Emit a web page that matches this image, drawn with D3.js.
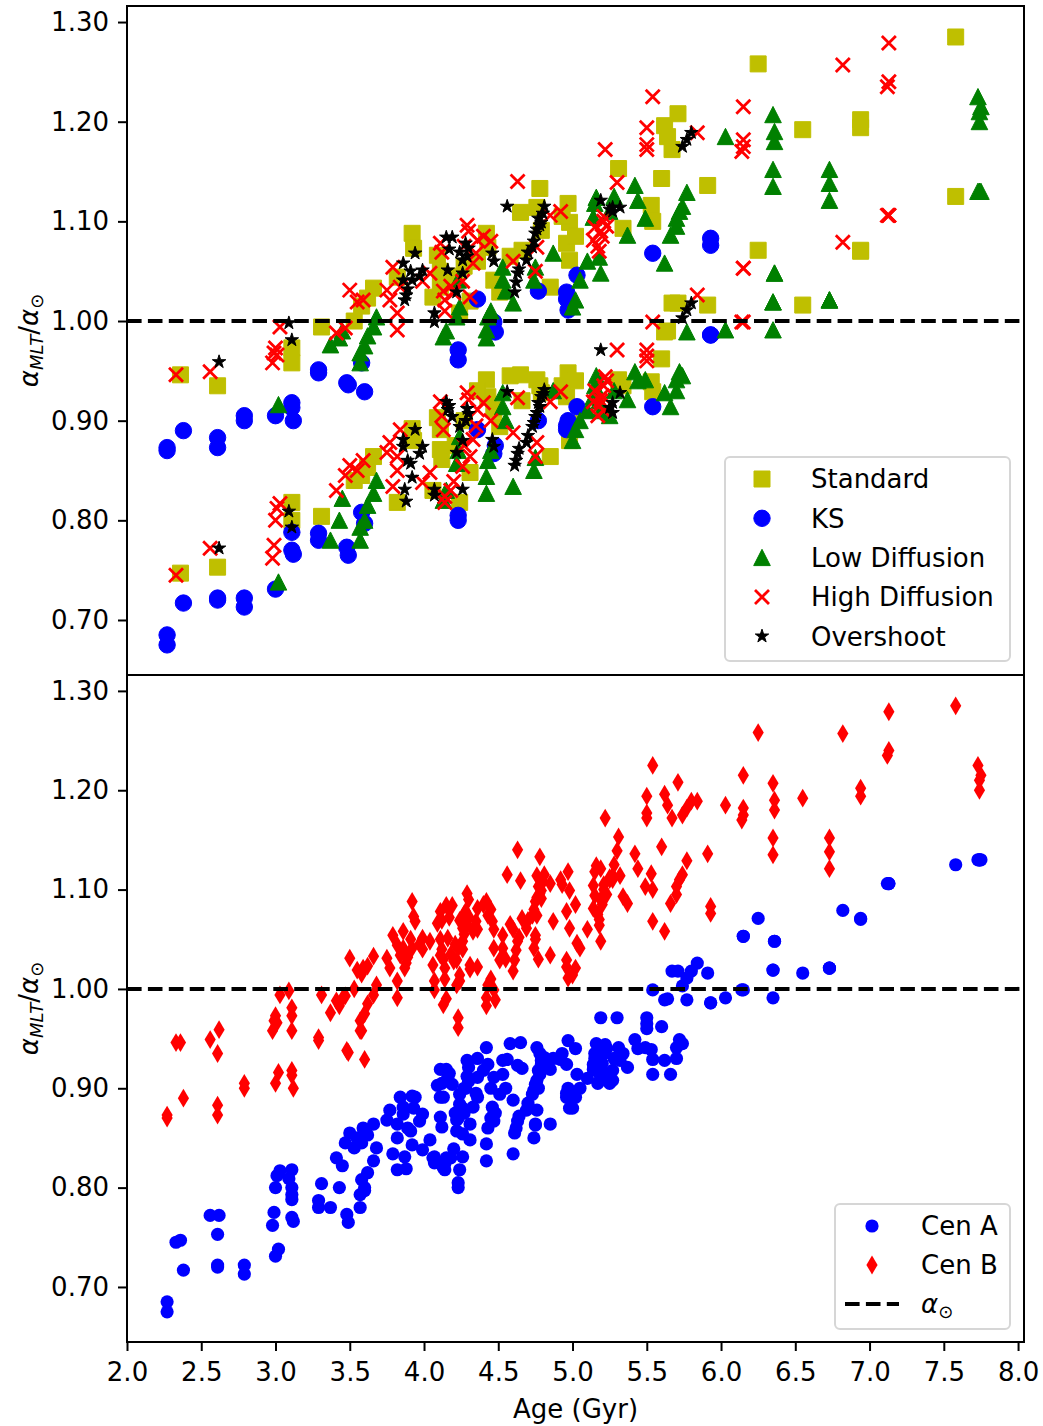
<!DOCTYPE html>
<html>
<head>
<meta charset="utf-8">
<script src="https://cdn.jsdelivr.net/npm/d3@7"></script>
<style>
  body { margin: 0; background: #fff; }
  svg { display: block; }
  text { font-family: "DejaVu Sans", sans-serif; fill: #000; }
</style>
</head>
<body>
<div id="chart"></div>
<script>
/**
 * DATA (age in Gyr, alpha for Cen A and Cen B, per model)
 * */
const stdAge = [2.36, 2.61, 3.11, 3.11, 3.31, 3.53, 3.62, 3.66, 3.82, 3.92, 3.93, 4.06, 4.09, 4.11, 4.11, 4.12, 4.24, 4.31, 4.42, 4.43, 4.47, 4.51, 4.65, 4.66, 4.76, 4.78, 4.79, 4.85, 4.96, 4.97, 4.98, 4.98, 5.31, 5.34, 5.53, 5.54, 5.60, 5.62, 5.64, 5.67, 5.71, 5.91, 6.25, 6.55, 6.94, 6.94, 7.58, 4.21, 4.27, 4.36, 4.93, 5.02, 4.58, 3.58];
const stdA = [0.747, 0.753, 0.818, 0.800, 0.804, 0.840, 0.853, 0.864, 0.818, 0.892, 0.880, 0.830, 0.903, 0.891, 0.871, 0.861, 0.818, 0.848, 0.941, 0.924, 0.911, 0.894, 0.946, 0.920, 0.941, 0.935, 0.928, 0.864, 0.924, 0.948, 0.897, 0.880, 0.941, 0.935, 0.939, 0.929, 0.962, 0.989, 0.990, 1.018, 1.018, 1.016, 1.071, 1.016, 1.071, 1.070, 1.125, 0.875, 0.900, 0.930, 0.935, 0.940, 0.945, 0.845];
const stdB = [0.946, 0.935, 0.973, 0.958, 0.994, 1.000, 1.023, 1.033, 1.044, 1.088, 1.073, 1.024, 1.066, 1.034, 1.050, 1.040, 1.008, 1.020, 1.088, 1.074, 1.041, 1.029, 1.109, 1.071, 1.114, 1.133, 1.091, 1.034, 1.078, 1.118, 1.061, 1.099, 1.153, 1.093, 1.116, 1.100, 1.143, 1.196, 1.185, 1.172, 1.208, 1.136, 1.258, 1.192, 1.202, 1.194, 1.285, 1.045, 1.055, 1.060, 1.105, 1.085, 1.065, 1.015];

const ksAge = [2.27, 2.27, 2.38, 2.61, 2.61, 2.79, 2.79, 3.00, 3.11, 3.11, 3.12, 3.29, 3.29, 3.48, 3.49, 3.58, 3.60, 4.23, 4.23, 4.36, 4.47, 4.48, 4.77, 4.96, 4.96, 4.97, 5.03, 5.54, 5.93, 5.93];
const ksA = [0.685, 0.675, 0.717, 0.722, 0.720, 0.722, 0.713, 0.731, 0.788, 0.770, 0.766, 0.787, 0.780, 0.773, 0.765, 0.808, 0.797, 0.805, 0.800, 0.891, 0.867, 0.875, 0.900, 0.891, 0.895, 0.900, 0.914, 0.914, 0.986, 0.986];
const ksB = [0.873, 0.870, 0.890, 0.883, 0.873, 0.905, 0.900, 0.905, 0.918, 0.913, 0.900, 0.951, 0.948, 0.938, 0.936, 0.958, 0.929, 0.971, 0.961, 1.022, 0.999, 0.989, 1.030, 1.029, 1.022, 1.011, 1.046, 1.068, 1.083, 1.076];

const ldAge = [3.02, 3.37, 3.43, 3.45, 3.57, 3.57, 3.60, 3.66, 3.68, 4.13, 4.15, 4.22, 4.24, 4.23, 4.42, 4.42, 4.43, 4.53, 4.53, 4.60, 4.74, 4.75, 4.87, 5.00, 5.02, 5.05, 5.14, 5.15, 5.16, 5.18, 5.19, 5.37, 5.42, 5.44, 5.49, 5.62, 5.66, 5.70, 5.72, 5.77, 6.03, 6.35, 6.35, 6.36, 6.36, 6.35, 6.73, 6.73, 6.73, 7.74, 7.74, 7.75, 7.73, 5.25, 5.28, 5.70, 5.74, 4.45, 4.55, 5.10, 3.62];
const ldA = [0.738, 0.780, 0.800, 0.822, 0.780, 0.793, 0.800, 0.827, 0.840, 0.820, 0.830, 0.857, 0.884, 0.870, 0.827, 0.844, 0.860, 0.914, 0.928, 0.834, 0.850, 0.863, 0.930, 0.880, 0.891, 0.900, 0.924, 0.935, 0.945, 0.920, 0.910, 0.921, 0.949, 0.940, 0.941, 0.928, 0.914, 0.941, 0.949, 0.989, 0.991, 0.991, 1.019, 1.048, 1.048, 1.019, 1.021, 1.021, 1.021, 1.130, 1.130, 1.130, 1.130, 0.905, 0.930, 0.930, 0.945, 0.870, 0.900, 0.910, 0.815];
const ldB = [0.916, 0.976, 0.983, 0.990, 0.958, 0.968, 0.975, 0.994, 1.004, 0.984, 0.990, 1.004, 1.014, 1.041, 0.983, 0.991, 1.004, 1.041, 1.054, 1.018, 1.041, 1.054, 1.068, 1.014, 1.021, 1.041, 1.104, 1.118, 1.124, 1.064, 1.048, 1.086, 1.136, 1.121, 1.103, 1.058, 1.086, 1.103, 1.110, 1.129, 1.185, 1.135, 1.152, 1.180, 1.190, 1.207, 1.121, 1.138, 1.152, 1.200, 1.210, 1.215, 1.225, 1.110, 1.125, 1.095, 1.115, 1.010, 1.030, 1.060, 0.985];

const hdAge = [2.33, 2.56, 2.98, 2.99, 3.00, 3.01, 3.03, 3.41, 3.47, 3.50, 3.55, 3.59, 3.75, 3.77, 3.79, 3.82, 3.82, 3.84, 3.99, 4.04, 4.11, 4.12, 4.13, 4.14, 4.14, 4.20, 4.26, 4.29, 4.30, 4.31, 4.33, 4.36, 4.40, 4.60, 4.63, 4.75, 4.76, 4.85, 4.92, 5.14, 5.15, 5.18, 5.20, 5.21, 5.22, 5.30, 5.50, 5.50, 5.50, 5.54, 5.84, 6.14, 6.15, 6.15, 6.15, 6.82, 7.12, 7.13, 7.13, 5.17, 5.19, 5.21, 5.23, 4.27, 4.35, 4.45, 4.18];
const hdA = [0.745, 0.772, 0.762, 0.775, 0.800, 0.812, 0.817, 0.830, 0.845, 0.855, 0.850, 0.860, 0.868, 0.878, 0.834, 0.864, 0.850, 0.891, 0.838, 0.848, 0.919, 0.905, 0.891, 0.824, 0.818, 0.839, 0.854, 0.928, 0.921, 0.864, 0.881, 0.911, 0.918, 0.888, 0.923, 0.864, 0.878, 0.919, 0.929, 0.919, 0.930, 0.915, 0.925, 0.935, 0.944, 0.971, 0.971, 0.960, 0.965, 0.999, 1.026, 0.999, 0.999, 1.053, 1.053, 1.079, 1.106, 1.106, 1.106, 0.905, 0.920, 0.910, 0.940, 0.875, 0.895, 0.900, 0.830];
const hdB = [0.946, 0.949, 0.958, 0.968, 0.973, 0.966, 0.994, 0.988, 0.993, 1.031, 1.019, 1.021, 1.031, 1.021, 1.054, 1.008, 0.991, 1.034, 1.040, 1.048, 1.078, 1.069, 1.030, 1.021, 1.010, 1.028, 1.040, 1.096, 1.090, 1.024, 1.058, 1.081, 1.085, 1.060, 1.140, 1.050, 1.074, 1.106, 1.110, 1.081, 1.094, 1.070, 1.085, 1.100, 1.172, 1.139, 1.172, 1.177, 1.194, 1.225, 1.189, 1.170, 1.175, 1.182, 1.215, 1.257, 1.235, 1.240, 1.279, 1.075, 1.090, 1.105, 1.095, 1.075, 1.068, 1.080, 1.035];

const osAge = [2.62, 3.09, 3.11, 3.86, 3.86, 3.87, 3.88, 3.91, 3.92, 3.94, 3.97, 3.99, 4.07, 4.07, 4.15, 4.16, 4.19, 4.22, 4.24, 4.26, 4.26, 4.30, 4.46, 4.47, 4.56, 4.61, 4.62, 4.63, 4.69, 4.70, 4.73, 4.75, 4.78, 4.79, 4.81, 5.19, 5.27, 5.27, 5.32, 5.74, 5.77, 5.80, 4.28, 4.29, 4.74, 4.76, 4.77, 4.80, 4.64, 3.89, 4.17, 5.25];
const osA = [0.772, 0.809, 0.793, 0.881, 0.874, 0.831, 0.819, 0.857, 0.843, 0.891, 0.867, 0.874, 0.831, 0.825, 0.919, 0.911, 0.904, 0.868, 0.894, 0.831, 0.880, 0.907, 0.881, 0.874, 0.929, 0.855, 0.860, 0.867, 0.878, 0.885, 0.894, 0.904, 0.914, 0.924, 0.931, 0.971, 0.918, 0.908, 0.928, 1.003, 1.011, 1.018, 0.900, 0.912, 0.898, 0.908, 0.918, 0.927, 0.872, 0.860, 0.915, 0.913];
const osB = [0.959, 0.998, 0.981, 1.058, 1.041, 1.021, 1.026, 1.050, 1.041, 1.068, 1.045, 1.051, 1.008, 0.999, 1.084, 1.051, 1.084, 1.029, 1.069, 1.048, 1.061, 1.073, 1.068, 1.060, 1.115, 1.029, 1.039, 1.048, 1.061, 1.069, 1.074, 1.088, 1.096, 1.099, 1.115, 1.121, 1.114, 1.110, 1.114, 1.175, 1.182, 1.189, 1.078, 1.065, 1.080, 1.092, 1.103, 1.108, 1.052, 1.032, 1.072, 1.112];

const modelNames = ["Standard", "KS", "Low Diffusion", "High Diffusion", "Overshoot"];
const xTicks = [2.0, 2.5, 3.0, 3.5, 4.0, 4.5, 5.0, 5.5, 6.0, 6.5, 7.0, 7.5, 8.0];
const yTicks = [0.70, 0.80, 0.90, 1.00, 1.10, 1.20, 1.30];
const alphaSun = 1.0;

/**
 * CONSTANTS AND GLOBALS
 * */
const width = 1043, height = 1426;
const left = 127, right = 1024;
const fontSize = 26;

const models = [
  { name: modelNames[0], age: stdAge, a: stdA, b: stdB, color: "#bfbf00", shape: "square" },
  { name: modelNames[1], age: ksAge, a: ksA, b: ksB, color: "#0000ff", shape: "circle" },
  { name: modelNames[2], age: ldAge, a: ldA, b: ldB, color: "#008000", shape: "triangle" },
  { name: modelNames[3], age: hdAge, a: hdA, b: hdB, color: "#ff0000", shape: "x" },
  { name: modelNames[4], age: osAge, a: osA, b: osB, color: "#000000", shape: "star" },
];

function markerPath(shape, big = true) {
  switch (shape) {
    case "square": return "M-8,-8H8V8H-8Z";
    case "circle": return d3.symbol(d3.symbolCircle, big ? 211 : 137)();
    case "triangle": return "M0,-8.3L8.3,8L-8.3,8Z";
    case "x": return "M-7,-7L7,7M-7,7L7,-7";
    case "star": return d3.symbol(d3.symbolStar, 56)();
    case "diamond": return "M0,-9.4L5.6,0L0,9.4L-5.6,0Z";
  }
}

function styleMarker(sel, shape, color) {
  if (shape === "x") {
    sel.attr("fill", "none").attr("stroke", color).attr("stroke-width", 2.8);
  } else {
    sel.attr("fill", color).attr("stroke", color).attr("stroke-width", 1);
  }
}

const svg = d3.select("#chart").append("svg")
  .attr("width", width)
  .attr("height", height);

const x = d3.scaleLinear().domain([2.0, 8.04]).range([left, right]);
const yTop = d3.scaleLinear().domain([0.6448, 1.3161]).range([675, 6]);
const yBot = d3.scaleLinear().domain([0.6446, 1.3160]).range([1342, 675]);

function yAxis(y) {
  const g = svg.append("g").attr("transform", `translate(${left},0)`);
  g.call(d3.axisLeft(y).tickValues(d3.range(65, 132).map(d => d / 100))
    .tickSize(5).tickSizeOuter(0).tickFormat(""));
  g.call(d3.axisLeft(y).tickValues(yTicks).tickSize(9).tickPadding(9)
    .tickSizeOuter(0).tickFormat(d3.format(".2f")));
  g.selectAll(".domain").remove();
  g.selectAll("line").attr("stroke-width", 2);
  g.selectAll("text").attr("font-size", fontSize).attr("font-family", "DejaVu Sans");
}

// panels
const panels = [
  { y: yTop, top: 6, bottom: 675 },
  { y: yBot, top: 675, bottom: 1342 },
];

// top panel markers, one layer per model
const gTop = svg.append("g");
models.forEach(m => {
  const pts = m.age.map((age, i) => [age, m.a[i]]).concat(m.age.map((age, i) => [age, m.b[i]]));
  gTop.append("g").selectAll("path")
    .data(pts)
    .join("path")
    .attr("transform", d => `translate(${x(d[0])},${yTop(d[1])})`)
    .attr("d", markerPath(m.shape))
    .call(styleMarker, m.shape, m.color);
});

// bottom panel markers: Cen A then Cen B
const gBot = svg.append("g");
const allA = models.flatMap(m => m.age.map((age, i) => [age, m.a[i]]));
const allB = models.flatMap(m => m.age.map((age, i) => [age, m.b[i]]));
gBot.append("g").selectAll("circle")
  .data(allA)
  .join("circle")
  .attr("cx", d => x(d[0]))
  .attr("cy", d => yBot(d[1]))
  .attr("r", 6.6)
  .attr("fill", "#0000ff");
gBot.append("g").selectAll("path")
  .data(allB)
  .join("path")
  .attr("transform", d => `translate(${x(d[0])},${yBot(d[1])})`)
  .attr("d", markerPath("diamond"))
  .attr("fill", "#ff0000");

// dashed solar line, frames, axes
panels.forEach(p => {
  svg.append("line")
    .attr("x1", left).attr("x2", right)
    .attr("y1", p.y(alphaSun)).attr("y2", p.y(alphaSun))
    .attr("stroke", "#000").attr("stroke-width", 4)
    .attr("stroke-dasharray", "14.6,6.3");
  yAxis(p.y);
  svg.append("rect")
    .attr("x", left).attr("y", p.top)
    .attr("width", right - left).attr("height", p.bottom - p.top)
    .attr("fill", "none").attr("stroke", "#000").attr("stroke-width", 2);
});

// x axis
const gx = svg.append("g").attr("transform", "translate(0,1342)");
gx.call(d3.axisBottom(x).tickValues(d3.range(20, 81).map(d => d / 10))
  .tickSize(5).tickSizeOuter(0).tickFormat(""));
gx.call(d3.axisBottom(x).tickValues(xTicks).tickSize(9).tickPadding(12)
  .tickSizeOuter(0).tickFormat(d3.format(".1f")));
gx.selectAll(".domain").remove();
gx.selectAll("line").attr("stroke-width", 2);
gx.selectAll("text").attr("font-size", fontSize).attr("font-family", "DejaVu Sans");

// axis labels
svg.append("text")
  .attr("x", (left + right) / 2).attr("y", 1418)
  .attr("text-anchor", "middle").attr("font-size", fontSize)
  .text("Age (Gyr)");

panels.forEach(p => {
  const t = svg.append("text")
    .attr("transform", `translate(38,${(p.top + p.bottom) / 2}) rotate(-90)`)
    .attr("text-anchor", "middle").attr("font-size", fontSize);
  t.append("tspan").attr("font-style", "italic").text("α");
  t.append("tspan").attr("font-style", "italic").attr("font-size", 18).attr("dy", 5).text("MLT");
  t.append("tspan").attr("dy", -5).text("/");
  t.append("tspan").attr("font-style", "italic").text("α");
  t.append("tspan").attr("font-size", 18).attr("dy", 5).text("⊙");
});

// top legend
const lg = svg.append("g");
lg.append("rect")
  .attr("x", 725).attr("y", 457).attr("width", 285).attr("height", 204)
  .attr("rx", 5).attr("fill", "#fff").attr("fill-opacity", 0.8)
  .attr("stroke", "#d6d6d6").attr("stroke-width", 2);
models.forEach((m, i) => {
  const cy = 479 + i * 39.3;
  lg.append("path")
    .attr("transform", `translate(762,${cy})`)
    .attr("d", markerPath(m.shape))
    .call(styleMarker, m.shape, m.color);
  lg.append("text")
    .attr("x", 811).attr("y", cy).attr("dy", "0.36em")
    .attr("font-size", fontSize)
    .text(m.name);
});

// bottom legend
const lb = svg.append("g");
lb.append("rect")
  .attr("x", 835).attr("y", 1204).attr("width", 175).attr("height", 125)
  .attr("rx", 5).attr("fill", "#fff").attr("fill-opacity", 0.8)
  .attr("stroke", "#d6d6d6").attr("stroke-width", 2);
lb.append("circle").attr("cx", 872).attr("cy", 1226).attr("r", 6.6).attr("fill", "#0000ff");
lb.append("path").attr("transform", "translate(872,1265)").attr("d", markerPath("diamond")).attr("fill", "#ff0000");
lb.append("line").attr("x1", 845).attr("x2", 899).attr("y1", 1304).attr("y2", 1304)
  .attr("stroke", "#000").attr("stroke-width", 4).attr("stroke-dasharray", "14.6,6.3");
lb.append("text").attr("x", 921).attr("y", 1226).attr("dy", "0.36em").attr("font-size", fontSize).text("Cen A");
lb.append("text").attr("x", 921).attr("y", 1265).attr("dy", "0.36em").attr("font-size", fontSize).text("Cen B");
const ls = lb.append("text").attr("x", 921).attr("y", 1304).attr("dy", "0.36em").attr("font-size", fontSize);
ls.append("tspan").attr("font-style", "italic").text("α");
ls.append("tspan").attr("font-size", 18).attr("dy", 5).text("⊙");
</script>
</body>
</html>
